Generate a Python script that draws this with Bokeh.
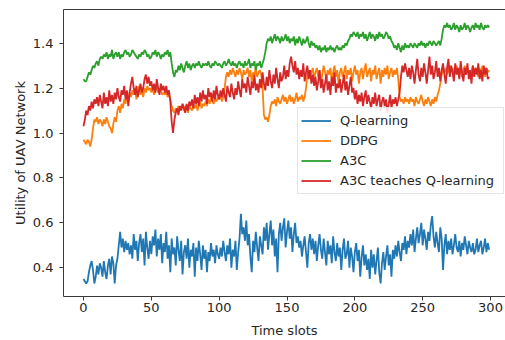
from bokeh.plotting import figure
from bokeh.models import Legend, LegendItem, LinearAxis, FixedTicker, Range1d
from bokeh.embed import file_html
from bokeh.resources import INLINE

time_slots = list(range(300))

q_learning = [
    0.35, 0.34, 0.33, 0.34, 0.38, 0.41, 0.43, 0.39, 0.33, 0.36,
    0.41, 0.37, 0.42, 0.40, 0.36, 0.43, 0.38, 0.35, 0.41, 0.44,
    0.37, 0.45, 0.42, 0.33, 0.41, 0.44, 0.50, 0.56, 0.49, 0.53,
    0.47, 0.52, 0.48, 0.51, 0.46, 0.50, 0.44, 0.55, 0.48, 0.52,
    0.43, 0.51, 0.55, 0.47, 0.53, 0.41, 0.56, 0.49, 0.44, 0.52,
    0.46, 0.54, 0.50, 0.57, 0.45, 0.53, 0.48, 0.55, 0.42, 0.51,
    0.47, 0.56, 0.44, 0.50, 0.38, 0.53, 0.46, 0.49, 0.41, 0.54,
    0.48, 0.43, 0.52, 0.37, 0.47, 0.50, 0.44, 0.53, 0.40, 0.48,
    0.45, 0.51, 0.36, 0.49, 0.43, 0.52, 0.46, 0.39, 0.50, 0.44,
    0.48, 0.38, 0.47, 0.43, 0.51, 0.45, 0.48, 0.42, 0.50, 0.46,
    0.44, 0.49, 0.45, 0.52, 0.47, 0.43, 0.50, 0.46, 0.53, 0.40,
    0.48, 0.45, 0.52, 0.39, 0.47, 0.53, 0.64, 0.55, 0.58, 0.52,
    0.61, 0.50, 0.55, 0.45, 0.38, 0.52, 0.47, 0.56, 0.49, 0.43,
    0.54, 0.50, 0.46, 0.58, 0.52, 0.60, 0.48, 0.55, 0.61, 0.50,
    0.57, 0.45, 0.53, 0.38, 0.55, 0.60, 0.52, 0.58, 0.62, 0.49,
    0.56, 0.61, 0.53, 0.58, 0.47, 0.55, 0.60, 0.51, 0.54, 0.49,
    0.52, 0.45, 0.50, 0.54, 0.47, 0.40, 0.51, 0.55, 0.48, 0.53,
    0.46, 0.52, 0.43, 0.50, 0.55, 0.48, 0.44, 0.53, 0.47, 0.41,
    0.52, 0.46, 0.50, 0.42, 0.54, 0.47, 0.43, 0.51, 0.45, 0.49,
    0.39, 0.48, 0.53, 0.44, 0.46, 0.52, 0.40, 0.49, 0.45, 0.38,
    0.47, 0.51, 0.43, 0.48, 0.36, 0.45, 0.50, 0.41, 0.46, 0.39,
    0.44, 0.35, 0.48, 0.40, 0.46, 0.37, 0.43, 0.49, 0.38, 0.33,
    0.42, 0.47, 0.39, 0.45, 0.50, 0.41, 0.46, 0.36, 0.48, 0.44,
    0.50, 0.45, 0.52, 0.47, 0.43, 0.51, 0.48, 0.54, 0.46, 0.52,
    0.49, 0.55, 0.50, 0.57, 0.47, 0.53, 0.58, 0.51, 0.55, 0.60,
    0.50, 0.57, 0.53, 0.48, 0.56, 0.52, 0.59, 0.63, 0.54, 0.49,
    0.56, 0.51, 0.47, 0.58, 0.53, 0.39, 0.50, 0.55, 0.46, 0.52,
    0.48, 0.53, 0.46, 0.50, 0.55, 0.49, 0.47, 0.52, 0.45, 0.51,
    0.48, 0.54, 0.50, 0.46, 0.52, 0.49, 0.47, 0.51, 0.46, 0.48,
    0.53, 0.47, 0.50, 0.52, 0.46, 0.49, 0.53, 0.47, 0.51, 0.48,
]

ddpg = [
    0.97, 0.96, 0.95, 0.97, 0.96, 0.94, 0.97, 1.02, 1.06, 1.05,
    1.07, 1.04, 1.06, 1.05, 1.03, 1.06, 1.04, 1.07, 1.05, 1.03,
    1.02, 1.00, 1.04, 1.07, 1.05, 1.10, 1.12, 1.09, 1.13, 1.11,
    1.15, 1.13, 1.17, 1.14, 1.18, 1.16, 1.19, 1.17, 1.20, 1.15,
    1.18, 1.21, 1.17, 1.19, 1.16, 1.20, 1.18, 1.21, 1.19, 1.20,
    1.18, 1.20, 1.17, 1.19, 1.21, 1.18, 1.20, 1.19, 1.17, 1.18,
    1.17, 1.19, 1.16, 1.17, 1.15, 1.12, 1.10, 1.09, 1.11, 1.10,
    1.12, 1.10, 1.11, 1.13, 1.10, 1.12, 1.11, 1.09, 1.12, 1.11,
    1.10, 1.12, 1.11, 1.13, 1.10, 1.12, 1.14, 1.11, 1.13, 1.12,
    1.14, 1.12, 1.15, 1.13, 1.16, 1.14, 1.13, 1.15, 1.14, 1.16,
    1.15, 1.17, 1.14, 1.16, 1.20, 1.25, 1.27, 1.25, 1.28, 1.26,
    1.29, 1.27, 1.25, 1.28, 1.26, 1.29, 1.27, 1.24, 1.28, 1.26,
    1.27, 1.29, 1.25, 1.28, 1.23, 1.27, 1.26, 1.29, 1.25, 1.27,
    1.28, 1.26, 1.20, 1.08, 1.06, 1.07, 1.05, 1.08, 1.12, 1.14,
    1.13, 1.15, 1.12, 1.16, 1.14, 1.13, 1.15, 1.17, 1.14, 1.16,
    1.13, 1.15, 1.17, 1.14, 1.16, 1.13, 1.15, 1.18, 1.14, 1.16,
    1.15, 1.17, 1.14, 1.16, 1.20, 1.26, 1.28, 1.25, 1.27, 1.29,
    1.24, 1.27, 1.29, 1.25, 1.28, 1.22, 1.26, 1.30, 1.27, 1.24,
    1.28, 1.26, 1.29, 1.23, 1.27, 1.30, 1.25, 1.28, 1.22, 1.27,
    1.29, 1.25, 1.27, 1.30, 1.24, 1.28, 1.26, 1.29, 1.23, 1.27,
    1.30, 1.26, 1.28, 1.22, 1.27, 1.29, 1.24, 1.28, 1.31, 1.25,
    1.27, 1.29, 1.23, 1.28, 1.26, 1.30, 1.24, 1.27, 1.29, 1.22,
    1.28, 1.25, 1.29, 1.26, 1.30, 1.24, 1.27, 1.29, 1.25, 1.28,
    1.26, 1.29, 1.24, 1.16, 1.14, 1.15, 1.13, 1.16, 1.14, 1.15,
    1.13, 1.16, 1.14, 1.15, 1.12, 1.16, 1.14, 1.13, 1.15, 1.17,
    1.14, 1.12, 1.15, 1.13, 1.16, 1.14, 1.12, 1.15, 1.13, 1.16,
    1.14, 1.17, 1.19, 1.22, 1.26, 1.28, 1.27, 1.29, 1.26, 1.28,
    1.30, 1.27, 1.29, 1.25, 1.28, 1.30, 1.26, 1.29, 1.27, 1.25,
    1.28, 1.30, 1.26, 1.29, 1.27, 1.24, 1.28, 1.30, 1.26, 1.29,
    1.27, 1.25, 1.29, 1.26, 1.30, 1.28, 1.25, 1.29, 1.27, 1.28,
]

a3c = [
    1.24, 1.23, 1.23, 1.25, 1.27, 1.26, 1.28, 1.30, 1.29, 1.31,
    1.32, 1.30, 1.33, 1.34, 1.33, 1.35, 1.34, 1.36, 1.33, 1.35,
    1.34, 1.37, 1.33, 1.35, 1.36, 1.34, 1.36, 1.33, 1.35, 1.34,
    1.36, 1.37, 1.35, 1.36, 1.34, 1.35, 1.37, 1.36, 1.35, 1.34,
    1.33, 1.35, 1.34, 1.36, 1.35, 1.37, 1.36, 1.34, 1.35, 1.33,
    1.34, 1.36, 1.35, 1.37, 1.34, 1.36, 1.35, 1.33, 1.35, 1.34,
    1.36, 1.35, 1.37, 1.34, 1.36, 1.31, 1.27, 1.25, 1.28, 1.27,
    1.30, 1.28, 1.31, 1.29, 1.27, 1.30, 1.32, 1.29, 1.31, 1.28,
    1.30, 1.31, 1.29, 1.31, 1.30, 1.32, 1.30, 1.29, 1.31, 1.30,
    1.31, 1.30, 1.32, 1.30, 1.29, 1.31, 1.30, 1.32, 1.31, 1.30,
    1.31, 1.30, 1.29, 1.31, 1.32, 1.30, 1.31, 1.33, 1.31, 1.30,
    1.32, 1.30, 1.31, 1.29, 1.31, 1.32, 1.30, 1.31, 1.29, 1.32,
    1.30, 1.31, 1.33, 1.29, 1.31, 1.30, 1.32, 1.28, 1.31, 1.30,
    1.32, 1.29, 1.31, 1.33, 1.36, 1.40, 1.42, 1.41, 1.43, 1.40,
    1.42, 1.44, 1.41, 1.43, 1.42, 1.40, 1.43, 1.41, 1.42, 1.44,
    1.41, 1.43, 1.40, 1.42, 1.41, 1.43, 1.39, 1.42, 1.40, 1.43,
    1.41, 1.39, 1.42, 1.40, 1.41, 1.43, 1.40, 1.38, 1.41, 1.39,
    1.40, 1.38, 1.39, 1.37, 1.39, 1.36, 1.38, 1.37, 1.39, 1.36,
    1.38, 1.37, 1.39, 1.37, 1.38, 1.36, 1.38, 1.39, 1.37, 1.38,
    1.37, 1.39, 1.38, 1.40, 1.39, 1.41, 1.42, 1.44, 1.43, 1.45,
    1.44, 1.43, 1.45, 1.42, 1.44, 1.43, 1.45, 1.42, 1.44, 1.41,
    1.43, 1.45, 1.42, 1.44, 1.43, 1.41, 1.44, 1.42, 1.45, 1.43,
    1.44, 1.42, 1.43, 1.45, 1.44, 1.42, 1.43, 1.41, 1.40, 1.38,
    1.39, 1.37, 1.40, 1.38, 1.36, 1.39, 1.37, 1.40, 1.38, 1.39,
    1.38, 1.40, 1.39, 1.38, 1.40, 1.39, 1.38, 1.40, 1.39, 1.41,
    1.39, 1.40, 1.38, 1.40, 1.39, 1.41, 1.40, 1.39, 1.41, 1.40,
    1.39, 1.40, 1.41, 1.39, 1.42, 1.46, 1.48, 1.47, 1.49, 1.47,
    1.48, 1.46, 1.47, 1.49, 1.46, 1.48, 1.47, 1.45, 1.48, 1.46,
    1.47, 1.49, 1.46, 1.48, 1.47, 1.45, 1.47, 1.48, 1.46, 1.49,
    1.47, 1.48, 1.46, 1.49, 1.47, 1.46, 1.48, 1.47, 1.48, 1.47,
]

a3c_teaches_q = [
    1.03, 1.06, 1.10, 1.08, 1.12, 1.10, 1.14, 1.11, 1.15, 1.13,
    1.16, 1.12, 1.17, 1.14, 1.11, 1.18, 1.13, 1.16, 1.12, 1.19,
    1.14, 1.17, 1.13, 1.18, 1.15, 1.20, 1.16, 1.14, 1.19, 1.17,
    1.21, 1.15, 1.19, 1.12, 1.18, 1.22, 1.25, 1.20, 1.17, 1.21,
    1.16, 1.19, 1.22, 1.18, 1.20, 1.24, 1.26, 1.22, 1.25, 1.21,
    1.23, 1.19, 1.22, 1.18, 1.24, 1.20, 1.17, 1.22, 1.19, 1.21,
    1.18, 1.21, 1.17, 1.19, 1.14, 1.05, 1.00, 1.06, 1.09, 1.11,
    1.08, 1.12, 1.10, 1.13, 1.11, 1.09, 1.13, 1.10, 1.14, 1.12,
    1.15, 1.11, 1.17, 1.13, 1.16, 1.12, 1.18, 1.14, 1.19, 1.15,
    1.17, 1.13, 1.20, 1.16, 1.18, 1.14, 1.19, 1.15, 1.21, 1.17,
    1.15, 1.19, 1.16, 1.20, 1.17, 1.14, 1.21, 1.18, 1.16, 1.22,
    1.18, 1.15, 1.20, 1.17, 1.23, 1.19, 1.16, 1.24, 1.20, 1.22,
    1.18, 1.25, 1.21, 1.17, 1.23, 1.20, 1.26, 1.19, 1.22, 1.18,
    1.24, 1.20, 1.27, 1.22, 1.19, 1.25, 1.21, 1.28, 1.23, 1.20,
    1.26, 1.22, 1.29, 1.24, 1.20, 1.27, 1.23, 1.25, 1.30, 1.24,
    1.28, 1.25, 1.31, 1.34, 1.30, 1.27, 1.32, 1.26, 1.29, 1.24,
    1.28, 1.25, 1.31, 1.23, 1.27, 1.30, 1.24, 1.28, 1.22, 1.26,
    1.21, 1.25, 1.19, 1.23, 1.28, 1.20, 1.24, 1.18, 1.22, 1.26,
    1.19, 1.23, 1.17, 1.25, 1.21, 1.27, 1.18, 1.22, 1.20, 1.24,
    1.18, 1.22, 1.26, 1.19, 1.23, 1.17, 1.21, 1.25, 1.18, 1.20,
    1.15, 1.19, 1.13, 1.17, 1.14, 1.18, 1.12, 1.16, 1.19, 1.13,
    1.17, 1.14, 1.11, 1.16, 1.13, 1.18, 1.12, 1.15, 1.17, 1.10,
    1.14, 1.16, 1.12, 1.15, 1.09, 1.13, 1.17, 1.11, 1.15, 1.13,
    1.16, 1.12, 1.15, 1.18, 1.25, 1.30, 1.27, 1.31, 1.28, 1.25,
    1.29, 1.24, 1.30, 1.27, 1.22, 1.28, 1.33, 1.26, 1.23, 1.29,
    1.25, 1.31, 1.27, 1.22, 1.28, 1.34, 1.26, 1.30, 1.24, 1.27,
    1.32, 1.25, 1.29, 1.23, 1.28, 1.31, 1.26, 1.22, 1.29, 1.33,
    1.25, 1.30, 1.27, 1.23, 1.31, 1.26, 1.29, 1.24, 1.32, 1.27,
    1.23, 1.29, 1.26, 1.31, 1.24, 1.28, 1.22, 1.30, 1.25, 1.29,
    1.26, 1.31, 1.24, 1.28, 1.23, 1.30, 1.26, 1.29, 1.24, 1.25,
]

series_names = ["Q-learning", "DDPG", "A3C", "A3C teaches Q-learning"]
series_colors = ["#1f77b4", "#ff7f0e", "#2ca02c", "#d62728"]
x_ticks = [0, 50, 100, 150, 200, 250, 300]
y_ticks = [0.4, 0.6, 0.8, 1.0, 1.2, 1.4]
y_tick_labels = ["0.4", "0.6", "0.8", "1.0", "1.2", "1.4"]

FONT = "DejaVu Sans"
SPINE = "#3a3a3a"
TXT = "#262626"

p = figure(
    width=505, height=340,
    x_range=Range1d(-14.74, 311.05), y_range=Range1d(0.272, 1.55),
    output_backend="svg", toolbar_location=None,
    min_border_left=63, min_border_right=0, min_border_top=9, min_border_bottom=42,
)
p.xgrid.visible = False
p.ygrid.visible = False
p.outline_line_color = None
p.background_fill_color = "white"
p.border_fill_color = "white"

for ax in (p.xaxis[0], p.yaxis[0]):
    ax.axis_line_color = SPINE
    ax.axis_line_width = 1
    ax.major_tick_line_color = SPINE
    ax.major_tick_out = 4
    ax.major_tick_in = 0
    ax.minor_tick_out = 0
    ax.minor_tick_in = 0
    ax.major_label_text_font = FONT
    ax.major_label_text_font_size = "13px"
    ax.major_label_text_color = TXT
    ax.axis_label_text_font = FONT
    ax.axis_label_text_font_size = "13px"
    ax.axis_label_text_font_style = "normal"
    ax.axis_label_text_color = TXT

p.xaxis.ticker = FixedTicker(ticks=x_ticks)
p.yaxis.ticker = FixedTicker(ticks=y_ticks)
p.yaxis.major_label_overrides = {t: l for t, l in zip(y_ticks, y_tick_labels)}
p.xaxis.axis_label = "Time slots"
p.yaxis.axis_label = "Utility of UAV Network"
p.xaxis.major_label_standoff = 2
p.xaxis.axis_label_standoff = 8
p.yaxis.major_label_standoff = 6
p.yaxis.axis_label_standoff = 2

top = LinearAxis(
    ticker=FixedTicker(ticks=[]), major_label_text_font_size="0px",
    major_tick_out=0, major_tick_in=0, minor_tick_out=0, minor_tick_in=0,
    major_label_standoff=0, axis_line_color=SPINE, axis_line_width=1,
)
p.add_layout(top, "above")

all_series = [q_learning, ddpg, a3c, a3c_teaches_q]
items = []
for name, color, ys in zip(series_names, series_colors, all_series):
    r = p.line(time_slots, ys, line_color=color, line_width=1.8)
    items.append(LegendItem(label=name, renderers=[r]))

legend = Legend(
    items=items, location=(234, 102),
    border_line_color="#cccccc", border_line_width=1,
    background_fill_color="white", background_fill_alpha=0.85,
    label_text_font=FONT, label_text_font_size="13px", label_text_color=TXT,
    glyph_width=30, glyph_height=19, label_height=19, label_standoff=9,
    label_width=160, spacing=1, padding=3, margin=0,
)
p.add_layout(legend)

open("out.html", "w").write(file_html(p, INLINE))
